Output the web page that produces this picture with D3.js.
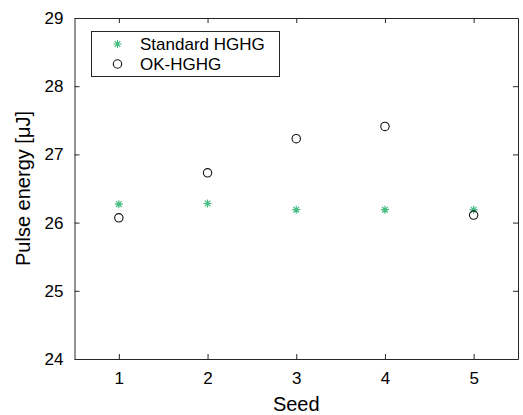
<!DOCTYPE html>
<html><head><meta charset="utf-8">
<script src="https://cdn.jsdelivr.net/npm/d3@7"></script>
<style>body{margin:0;background:#fff}svg{display:block;font-family:"Liberation Sans",Arial,Helvetica,sans-serif}</style>
</head><body>
<script>
const seeds = [1, 2, 3, 4, 5];
const standardHGHG = [26.27, 26.28, 26.19, 26.19, 26.19];
const okHGHG = [26.07, 26.73, 27.23, 27.41, 26.11];
const xTicks = [1, 2, 3, 4, 5];
const yTicks = [24, 25, 26, 27, 28, 29];
const seriesNames = ["Standard HGHG", "OK-HGHG"];

const W = 523, H = 415;
const m = {left: 74.5, right: 5, top: 18, bottom: 56};
const svg = d3.select("body").append("svg").attr("width", W).attr("height", H);
const x = d3.scaleLinear().domain([0.5, 5.5]).range([m.left, W - m.right]);
const y = d3.scaleLinear().domain([24, 29]).range([H - m.bottom, m.top]);
const axCol = "#262626";

const gx = svg.append("g").attr("transform", `translate(0,${y(24)})`)
  .call(d3.axisBottom(x).tickValues(xTicks).tickSizeInner(-5).tickSizeOuter(0).tickPadding(13).tickFormat(d3.format("d")));
const gxt = svg.append("g").attr("transform", `translate(0,${y(29)})`)
  .call(d3.axisTop(x).tickValues(xTicks).tickSizeInner(-5).tickSizeOuter(0).tickFormat(""));
const gy = svg.append("g").attr("transform", `translate(${x(0.5)},0)`)
  .call(d3.axisLeft(y).tickValues(yTicks).tickSizeInner(-5).tickSizeOuter(0).tickPadding(11).tickFormat(d3.format("d")));
const gyr = svg.append("g").attr("transform", `translate(${x(5.5)},0)`)
  .call(d3.axisRight(y).tickValues(yTicks).tickSizeInner(-5).tickSizeOuter(0).tickFormat(""));
[gx, gxt, gy, gyr].forEach(g => {
  g.selectAll("path,line").attr("stroke", axCol).attr("stroke-width", 1);
  g.selectAll("text").attr("fill", "#000").style("font-size", "17px").style("font-family", null);
});

const green = "#44bd80";
function star(g, cx, cy, r) {
  const a = r * Math.SQRT1_2;
  g.append("path").attr("d",
    `M${cx-r},${cy}L${cx+r},${cy}M${cx},${cy-r}L${cx},${cy+r}M${cx-a},${cy-a}L${cx+a},${cy+a}M${cx-a},${cy+a}L${cx+a},${cy-a}`)
    .attr("stroke", green).attr("stroke-width", 1.2).attr("fill", "none");
}
const pts = svg.append("g");
seeds.forEach((s, i) => star(pts, x(s), y(standardHGHG[i]), 4));
pts.selectAll("circle").data(seeds).join("circle")
  .attr("cx", d => x(d)).attr("cy", (d, i) => y(okHGHG[i])).attr("r", 4.2)
  .attr("fill", "none").attr("stroke", "#111").attr("stroke-width", 1.1);

// legend
const lg = svg.append("g");
lg.append("rect").attr("x", 91.5).attr("y", 31.5).attr("width", 188).attr("height", 45)
  .attr("fill", "#fff").attr("stroke", axCol).attr("stroke-width", 1);
star(lg, 117.5, 44, 4);
lg.append("circle").attr("cx", 117.5).attr("cy", 64).attr("r", 4.2).attr("fill", "none").attr("stroke", "#111").attr("stroke-width", 1.1);
lg.selectAll("text").data(seriesNames).join("text")
  .attr("x", 140).attr("y", (d, i) => 50 + i * 20)
  .style("font-size", "17px").text(d => d);

svg.append("text").attr("x", (x(0.5) + x(5.5)) / 2).attr("y", 411).attr("text-anchor", "middle")
  .style("font-size", "20px").text("Seed");
svg.append("text").attr("transform", `translate(30,${(y(24)+y(29))/2}) rotate(-90)`).attr("text-anchor", "middle")
  .style("font-size", "20px").text("Pulse energy [μJ]");
</script>
</body></html>
